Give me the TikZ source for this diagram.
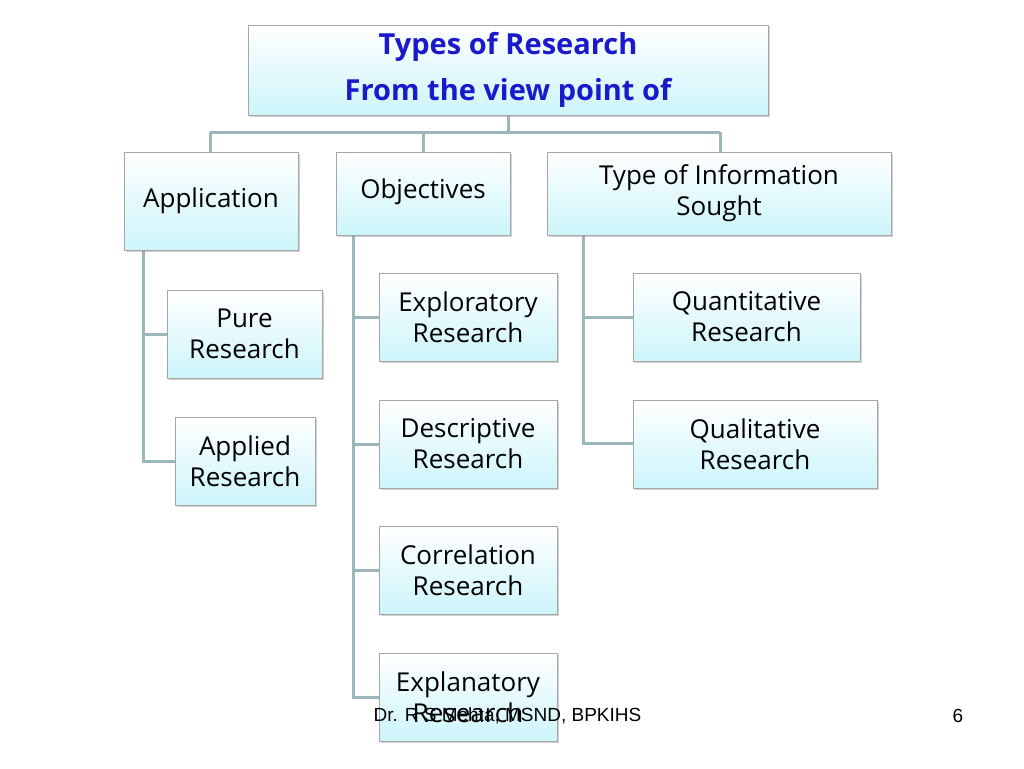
\documentclass[tikz,border=0pt]{standalone}
\usepackage{fontspec}
\setmainfont{Open Sans}
\newfontfamily\footfont{Liberation Sans}
\usetikzlibrary{shadows}
\definecolor{lnc}{HTML}{9BB7BB}
\definecolor{bxb}{HTML}{CCF5FA}
\definecolor{ttl}{HTML}{1A1ACC}
\begin{document}
\begin{tikzpicture}[x=1pt,y=-1pt,
  bx/.style={draw=black!35,line width=0.8pt,top color=white,bottom color=bxb,
    drop shadow={shadow xshift=2pt,shadow yshift=-2pt,opacity=0.35},
    align=center,font=\fontsize{26}{31}\selectfont,inner sep=0pt},
  ln/.style={draw=lnc,line width=3pt}]
\useasboundingbox (0,0) rectangle (1024,768);
\fill[white] (0,0) rectangle (1024,768);
\newcommand\bx[6]{\node[bx,minimum width=#4-#2,minimum height=#5-#3] (#1) at ({(#2+#4)/2},{(#3+#5)/2}) {#6};}
\draw[ln] (508,115) -- (508,132);
\draw[ln] (210,132) -- (720,132);
\draw[ln] (210,132) -- (210,152);
\draw[ln] (423,132) -- (423,152);
\draw[ln] (720,132) -- (720,152);
\draw[ln] (143,250) -- (143,461) -- (175,461);
\draw[ln] (143,334) -- (167,334);
\draw[ln] (353,235) -- (353,697) -- (379,697);
\draw[ln] (353,317) -- (379,317);
\draw[ln] (353,444) -- (379,444);
\draw[ln] (353,570) -- (379,570);
\draw[ln] (583,235) -- (583,443) -- (633,443);
\draw[ln] (583,317) -- (633,317);
\bx{top}{248}{25}{768}{115}{\textcolor{ttl}{\bfseries\fontsize{29}{46}\selectfont Types of Research}\\[15pt]\textcolor{ttl}{\bfseries\fontsize{29}{46}\selectfont From the view point of}}
\bx{app}{124}{152}{298}{250}{Application}
\bx{obj}{336}{152}{510}{235}{\raisebox{10pt}{Objectives}}
\bx{tis}{547}{152}{891}{235}{Type of Information\\Sought}
\bx{pure}{167}{290}{322}{378}{Pure\\Research}
\bx{appl}{175}{417}{315}{505}{Applied\\Research}
\bx{expl}{379}{273}{557}{361}{Exploratory\\Research}
\bx{desc}{379}{400}{557}{488}{Descriptive\\Research}
\bx{corr}{379}{526}{557}{614}{Correlation\\Research}
\bx{expn}{379}{653}{557}{741}{Explanatory\\Research}
\bx{quan}{633}{273}{860}{361}{Quantitative\\Research}
\bx{qual}{633}{400}{877}{488}{Qualitative\\Research}
\node[font=\footfont\fontsize{19}{21}\selectfont,anchor=west] (ft) at (370,716) {Dr. R S Mehta, MSND, BPKIHS};
\node[font=\footfont\fontsize{19}{21}\selectfont] (pg) at (958,716) {6};
\end{tikzpicture}
\end{document}
